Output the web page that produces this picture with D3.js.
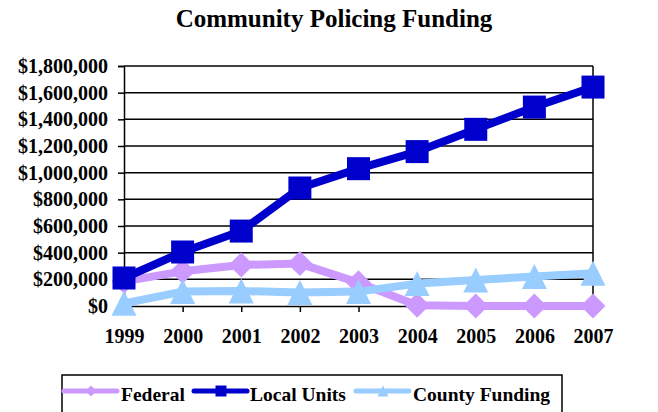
<!DOCTYPE html>
<html>
<head>
<meta charset="utf-8">
<script src="https://cdn.jsdelivr.net/npm/d3@7"></script>
<style>
  html, body { margin: 0; padding: 0; background: #fff; }
  svg { display: block; }
  text { font-family: "Liberation Serif", "Times New Roman", serif; font-weight: bold; fill: #000; }
</style>
</head>
<body>
<svg id="chart" width="658" height="412"></svg>
<script>
const title = "Community Policing Funding";
const years = ["1999", "2000", "2001", "2002", "2003", "2004", "2005", "2006", "2007"];
const federal = [185000, 260000, 308000, 318000, 175000, 5000, 0, 0, 0];
const localUnits = [210000, 405000, 562000, 885000, 1030000, 1158000, 1325000, 1492000, 1642000];
const countyFunding = [20000, 108000, 112000, 102000, 108000, 168000, 195000, 222000, 245000];
const seriesNames = ["Federal", "Local Units", "County Funding"];
const yTicks = [0, 200000, 400000, 600000, 800000, 1000000, 1200000, 1400000, 1600000, 1800000];

const series = [
  { name: seriesNames[0], values: federal, color: "#CC99FF", marker: "diamond" },
  { name: seriesNames[1], values: localUnits, color: "#0000CC", marker: "square" },
  { name: seriesNames[2], values: countyFunding, color: "#99CCFF", marker: "triangle" }
];

const svg = d3.select("#chart");
const m = { left: 124, right: 593, top: 66, bottom: 306 };

const x = d3.scalePoint().domain(years).range([m.left, m.right]).padding(0);
const y = d3.scaleLinear().domain([0, 1800000]).range([m.bottom, m.top]);

// title
svg.append("text").attr("x", 334).attr("y", 27).attr("text-anchor", "middle")
  .style("font-size", "25px").text(title);

// gridlines
svg.append("g").selectAll("line").data(yTicks.filter(d => d > 0)).join("line")
  .attr("x1", m.left).attr("x2", m.right)
  .attr("y1", d => y(d)).attr("y2", d => y(d))
  .attr("stroke", "#000").attr("stroke-width", 1.5);
// right border
svg.append("line").attr("x1", m.right).attr("x2", m.right).attr("y1", m.top).attr("y2", m.bottom)
  .attr("stroke", "#000").attr("stroke-width", 1.5);

const fmt = d => "$" + d3.format(",")(d);

const yAxis = svg.append("g").attr("transform", `translate(${m.left},0)`)
  .call(d3.axisLeft(y).tickValues(yTicks).tickFormat(fmt).tickSize(6).tickPadding(10));
yAxis.select(".domain").attr("stroke", "#000").attr("stroke-width", 1.5);
yAxis.selectAll(".tick line").attr("stroke", "#000").attr("stroke-width", 1.5);
yAxis.selectAll("text").style("font-size", "20px");

const xAxis = svg.append("g").attr("transform", `translate(0,${m.bottom})`)
  .call(d3.axisBottom(x).tickSize(6).tickPadding(17));
xAxis.select(".domain").attr("stroke", "#000").attr("stroke-width", 1.5);
xAxis.selectAll(".tick line").attr("stroke", "#000").attr("stroke-width", 1.5);
xAxis.selectAll("text").style("font-size", "20px");

function drawMarker(g, type, cx, cy, s, color) {
  if (type === "square") {
    g.append("rect").attr("x", cx - s / 2).attr("y", cy - s / 2).attr("width", s).attr("height", s).attr("fill", color);
  } else if (type === "diamond") {
    const h = s / 2;
    g.append("path").attr("d", `M${cx},${cy - h}L${cx + h},${cy}L${cx},${cy + h}L${cx - h},${cy}Z`).attr("fill", color);
  } else {
    const h = s / 2;
    g.append("path").attr("d", `M${cx},${cy - h}L${cx + h},${cy + h}L${cx - h},${cy + h}Z`).attr("fill", color);
  }
}

const line = d3.line().x((d, i) => x(years[i])).y(d => y(d));

series.forEach(s => {
  const g = svg.append("g");
  g.append("path").attr("d", line(s.values)).attr("fill", "none")
    .attr("stroke", s.color).attr("stroke-width", 8).attr("stroke-linejoin", "round");
  s.values.forEach((v, i) => drawMarker(g, s.marker, x(years[i]), y(v), s.marker === "square" ? 23 : 25, s.color));
});

// legend
const lg = svg.append("g");
lg.append("rect").attr("x", 62).attr("y", 375).attr("width", 500).attr("height", 45)
  .attr("fill", "#fff").attr("stroke", "#000").attr("stroke-width", 1.5);
const legendPos = [{ lx: 64, tx: 121 }, { lx: 194, tx: 250 }, { lx: 356, tx: 413 }];
series.forEach((s, i) => {
  const p = legendPos[i];
  lg.append("line").attr("x1", p.lx).attr("x2", p.lx + 53).attr("y1", 391).attr("y2", 391)
    .attr("stroke", s.color).attr("stroke-width", 5).attr("stroke-linecap", "round");
  drawMarker(lg, s.marker, p.lx + 27, 391, 11, s.color);
  lg.append("text").attr("x", p.tx).attr("y", 401).style("font-size", "19.5px").text(s.name);
});
</script>
</body>
</html>
